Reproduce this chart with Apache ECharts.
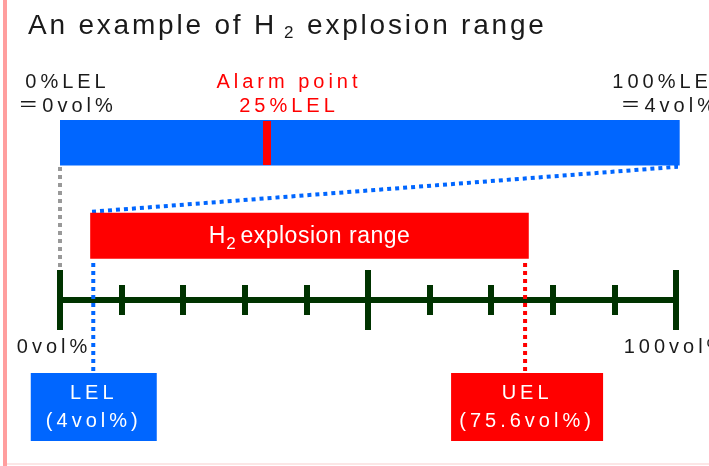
<!DOCTYPE html>
<html>
<head>
<meta charset="UTF-8">
<title>H2 explosion range</title>
<script src="https://cdn.jsdelivr.net/npm/echarts@6/dist/echarts.min.js"></script>
<style>
  html, body { margin: 0; padding: 0; background: #fff; }
  #chart { width: 709px; height: 466px; }
</style>
</head>
<body>
<div id="chart"></div>
<script>
// ---- texts of the sketch ----
var titleParts = ['An example of H', '2', ' explosion range'];
var lelEnds = ['0%LEL', '100%LEL'];
var lelEndsVol = ['＝0vol%', '＝4vol%'];
var alarmText = ['Alarm point', '25%LEL'];
var rangeParts = ['H', '2 ', 'explosion range'];
var limitNames = ['LEL', 'UEL'];
var limitVols = ['(4vol%)', '(75.6vol%)'];
var axisEndLabels = ['0vol%', '100vol%'];

// ---- positions on the vol% scale, as drawn (the sketch is not to scale) ----
var lelBarSpan = [0, 100.6];   // blue 0-100 %LEL bar
var alarmAt = 33.6;            // red alarm mark inside the blue bar
var rangeSpan = [4.9, 76.1];   // red explosion band
var limitAt = [5.4, 75.5];     // LEL / UEL drop lines
var guideFrom = [0, 5.2];      // grey drop line, start of the blue guide
var guideTo = 100.4;           // end of the blue guide
var scaleMin = 0, scaleMax = 100, majorStep = 50, minorSplit = 5;

// vertical layout, in px above the scale line (y = 0)
var ROW = {
  endText: 205.75, endLine: 23.5,
  barTop: 180, barBottom: 134.5,
  markTop: 179, markBottom: 135,
  greyTop: 133, greyBottom: 32,
  guideLeft: 88.3, guideRight: 133.3,
  bandTop: 87.3, bandBottom: 41.3,
  dropTop: 37, dropBottom: -72,
  scaleText: -47,
  boxTop: -73, boxBottom: -141, boxLine: 28
};

var BLUE = '#0066ff', RED = '#ff0000', GREEN = '#003300', GREY = '#999999', INK = '#1a1a1a';
var FONT = "'Liberation Sans', 'Noto Sans CJK JP', sans-serif";

// ECharts has no letter-spacing option, the sketch's lettering is spaced out:
// keep a gap per text run and set it on the 2D context when it is measured or drawn
var letterGap = {};
function spaced(text, px) {
  text.split('\n').forEach(function (t) { letterGap[t] = px; });
  return text;
}
['fillText', 'measureText'].forEach(function (fn) {
  var base = CanvasRenderingContext2D.prototype[fn];
  CanvasRenderingContext2D.prototype[fn] = function (text) {
    this.letterSpacing = (letterGap[text] || 0) + 'px';
    return base.apply(this, arguments);
  };
});

spaced(titleParts[0], 2.8);
spaced(titleParts[2], 2.8);
spaced(rangeParts[2], 0.5);

var spans = [
  { x: lelBarSpan, y: [ROW.barTop, ROW.barBottom], color: BLUE },
  { x: rangeSpan, y: [ROW.bandTop, ROW.bandBottom], color: RED,
    text: '{r|' + rangeParts[0] + '}{s|' + rangeParts[1] + '}{r|' + rangeParts[2] + '}' }
];
var tags = [
  { at: alarmAt, w: 8, dx: 0, y: [ROW.markTop, ROW.markBottom], color: RED },
  { at: limitAt[0], w: 126, dx: 0.5, y: [ROW.boxTop, ROW.boxBottom], color: BLUE,
    text: spaced(limitNames[0] + '\n' + limitVols[0], 4) },
  { at: limitAt[1], w: 152, dx: 2, y: [ROW.boxTop, ROW.boxBottom], color: RED,
    text: spaced(limitNames[1] + '\n' + limitVols[1], 4) }
];
var notes = [
  { at: lelBarSpan[0], dx: 7.5, y: ROW.endText, text: spaced(lelEnds[0] + '\n' + lelEndsVol[0], 4), color: INK },
  { at: lelBarSpan[1], dx: -10, y: ROW.endText, text: spaced(lelEnds[1] + '\n' + lelEndsVol[1], 4), color: INK },
  { at: alarmAt, dx: 22, y: ROW.endText, text: spaced(alarmText.join('\n'), 4), color: RED },
  { at: scaleMin, dx: -6, y: ROW.scaleText, text: spaced(axisEndLabels[0], 4), color: INK },
  { at: scaleMax, dx: 0, y: ROW.scaleText, text: spaced(axisEndLabels[1], 4), color: INK }
];

function textEl(x, y, text, color, size, lineHeight, rich) {
  return {
    type: 'text', x: x, y: y,
    style: {
      text: text, fill: color, fontSize: size, fontFamily: FONT,
      align: 'center', verticalAlign: 'middle', lineHeight: lineHeight, rich: rich
    }
  };
}

function dotted(points, color) {
  return {
    type: 'line', data: points, symbol: 'none', silent: true, clip: false, z: 1,
    lineStyle: { color: color, width: 4, type: [4, 4], cap: 'butt' }
  };
}

// the scale is drawn twice on one line: once ticking down, once ticking up
function scaleAxis(position, yIndex) {
  return {
    type: 'value', position: position, min: scaleMin, max: scaleMax, interval: majorStep,
    axisLine: { show: true, onZero: true, onZeroAxisIndex: yIndex, lineStyle: { color: GREEN, width: 6 } },
    axisTick: { show: true, inside: false, length: 30, lineStyle: { color: GREEN, width: 6 } },
    minorTick: { show: true, splitNumber: minorSplit, length: 15, lineStyle: { color: GREEN, width: 6 } },
    splitLine: { show: false },
    minorSplitLine: { show: false },
    axisLabel: { show: false }
  };
}

var chart = echarts.init(document.getElementById('chart'));
chart.setOption({
  animation: false,
  backgroundColor: '#fff',
  title: {
    text: '{t|' + titleParts[0] + '}{s|' + titleParts[1] + '}{t|' + titleParts[2] + '}',
    left: 28, top: 11, padding: 0,
    textStyle: {
      fontSize: 28, fontWeight: 'normal', color: INK, fontFamily: FONT,
      rich: {
        t: { fontSize: 28, color: INK, fontFamily: FONT },
        s: { fontSize: 17, color: INK, fontFamily: FONT, padding: [14, 3, 0, 7] }
      }
    }
  },
  graphic: [
    { type: 'rect', left: 3, top: 0, shape: { width: 4, height: 466 }, style: { fill: '#ff9e9e' } },
    { type: 'rect', left: 7, top: 463, shape: { width: 702, height: 2 }, style: { fill: '#fce6e6' } }
  ],
  grid: { left: 60, right: 33, top: 0, bottom: 0, containLabel: false, outerBoundsMode: 'none' },
  xAxis: [scaleAxis('bottom', 0), scaleAxis('top', 1)],
  yAxis: [
    { type: 'value', min: -166, max: 300, show: false },
    { type: 'value', min: -166, max: 300, show: false }
  ],
  series: [
    dotted([[guideFrom[0], ROW.greyTop], [guideFrom[0], ROW.greyBottom]], GREY),
    dotted([[guideFrom[1], ROW.guideLeft], [guideTo, ROW.guideRight]], BLUE),
    dotted([[limitAt[0], ROW.dropTop], [limitAt[0], ROW.dropBottom]], BLUE),
    dotted([[limitAt[1], ROW.dropTop], [limitAt[1], ROW.dropBottom]], RED),
    {
      type: 'custom', silent: true, z: 3,
      data: spans.map(function (s) { return s.x; }),
      encode: { x: [0, 1] },
      renderItem: function (params, api) {
        var s = spans[params.dataIndex];
        var a = api.coord([api.value(0), s.y[0]]);
        var b = api.coord([api.value(1), s.y[1]]);
        var kids = [{
          type: 'rect',
          shape: { x: a[0], y: a[1], width: b[0] - a[0], height: b[1] - a[1] },
          style: { fill: s.color }
        }];
        if (s.text) {
          kids.push(textEl((a[0] + b[0]) / 2, (a[1] + b[1]) / 2 + 1.3, s.text, '#fff', 22, null, {
            r: { fontSize: 23, fill: '#fff', fontFamily: FONT },
            s: { fontSize: 17, fill: '#fff', fontFamily: FONT, padding: [14, 0, 0, 1] }
          }));
        }
        return { type: 'group', children: kids };
      }
    },
    {
      type: 'custom', silent: true, z: 4,
      data: tags.map(function (t) { return [t.at]; }),
      encode: { x: 0 },
      renderItem: function (params, api) {
        var t = tags[params.dataIndex];
        var a = api.coord([api.value(0), t.y[0]]);
        var b = api.coord([api.value(0), t.y[1]]);
        var cx = a[0] + t.dx;
        var kids = [{
          type: 'rect',
          shape: { x: cx - t.w / 2, y: a[1], width: t.w, height: b[1] - a[1] },
          style: { fill: t.color }
        }];
        if (t.text) kids.push(textEl(cx, (a[1] + b[1]) / 2, t.text, '#fff', 20, ROW.boxLine));
        return { type: 'group', children: kids };
      }
    },
    {
      type: 'custom', silent: true, z: 4,
      data: notes.map(function (n) { return [n.at]; }),
      encode: { x: 0 },
      renderItem: function (params, api) {
        var n = notes[params.dataIndex];
        var p = api.coord([api.value(0), n.y]);
        return textEl(p[0] + n.dx, p[1], n.text, n.color, 20, ROW.endLine);
      }
    }
  ]
});
</script>
</body>
</html>
